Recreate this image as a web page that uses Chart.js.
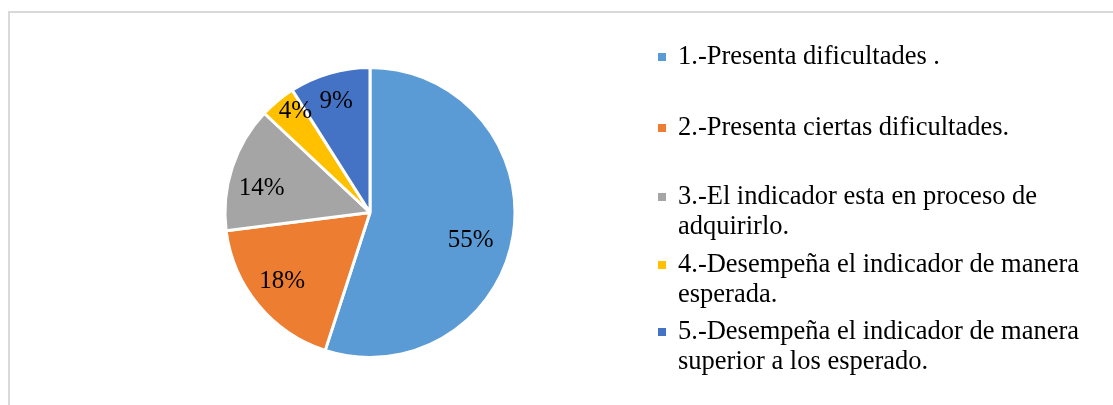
<!DOCTYPE html>
<html>
<head>
<meta charset="utf-8">
<script src="https://cdn.jsdelivr.net/npm/chart.js@4/dist/chart.umd.min.js"></script>
<style>
  html, body { margin: 0; padding: 0; background: #fff; }
  #wrap { position: relative; width: 1113px; height: 405px; overflow: hidden; }
  #frame { position: absolute; left: 8px; top: 11px; width: 1200px; height: 500px;
           border-left: 2px solid #D9D9D9; border-top: 2px solid #D9D9D9; }
  #chart { position: absolute; left: 0; top: 0; }
  #legend { position: absolute; left: 658px; top: 0; width: 455px;
            font-family: "Liberation Serif", "Times New Roman", serif; font-size: 26.5px;
            line-height: 30px; color: #000; }
  .item { position: absolute; left: 0; width: 445px; }
  .mk { position: absolute; left: 0; top: 13px; width: 8px; height: 8px; }
  .tx { margin-left: 20px; }
</style>
</head>
<body>
<div id="wrap">
  <div id="frame"></div>
  <canvas id="chart" width="1113" height="405"></canvas>
  <div id="legend"></div>
</div>
<script>
// ---- data ----
const categories = [
  "1.-Presenta dificultades .",
  "2.-Presenta ciertas dificultades.",
  "3.-El indicador esta en proceso de adquirirlo.",
  "4.-Desempeña el indicador de manera esperada.",
  "5.-Desempeña el indicador de manera superior a los esperado."
];
const values = [55, 18, 14, 4, 9];
const valueLabels = ["55%", "18%", "14%", "4%", "9%"];

// ---- styles ----
const colors = ["#5B9BD5", "#ED7D31", "#A5A5A5", "#FFC000", "#4472C4"];
const labelRadius = [0.72, 0.77, 0.765, 0.864, 0.80];
const labelAngleShift = [6.4, 1.4, -5.7, 3.1, -0.7];
const legendTops = [39.5, 111, 179.5, 248, 314.5];

const pieLabels = {
  id: "pieLabels",
  afterDatasetsDraw(chart) {
    const ctx = chart.ctx;
    const meta = chart.getDatasetMeta(0);
    ctx.save();
    ctx.font = '25px "Liberation Serif", "Times New Roman", serif';
    ctx.fillStyle = "#000";
    ctx.textAlign = "center";
    ctx.textBaseline = "middle";
    meta.data.forEach((arc, i) => {
      const p = arc.getProps(["x", "y", "startAngle", "endAngle", "outerRadius"], true);
      const mid = (p.startAngle + p.endAngle) / 2 + labelAngleShift[i] * Math.PI / 180;
      const r = p.outerRadius * labelRadius[i];
      ctx.fillText(valueLabels[i], p.x + Math.cos(mid) * r, p.y + Math.sin(mid) * r);
    });
    ctx.restore();
  }
};

const chart = new Chart(document.getElementById("chart"), {
  type: "pie",
  data: {
    labels: categories,
    datasets: [{
      data: values,
      backgroundColor: colors,
      hoverBackgroundColor: colors,
      borderColor: "#FFFFFF",
      hoverBorderColor: "#FFFFFF",
      borderWidth: 3,
      hoverBorderWidth: 3
    }]
  },
  options: {
    responsive: false,
    animation: false,
    events: [],
    layout: { padding: { left: 223.5, top: 66, right: 596.5, bottom: 46 } },
    plugins: { legend: { display: false }, tooltip: { enabled: false } }
  },
  plugins: [pieLabels]
});

// ---- HTML legend built from chart data ----
const legend = document.getElementById("legend");
chart.data.labels.forEach((lab, i) => {
  const item = document.createElement("div");
  item.className = "item";
  item.style.top = legendTops[i] + "px";
  const mk = document.createElement("div");
  mk.className = "mk";
  mk.style.background = chart.data.datasets[0].backgroundColor[i];
  const tx = document.createElement("div");
  tx.className = "tx";
  tx.textContent = lab;
  item.appendChild(mk);
  item.appendChild(tx);
  legend.appendChild(item);
});
</script>
</body>
</html>
